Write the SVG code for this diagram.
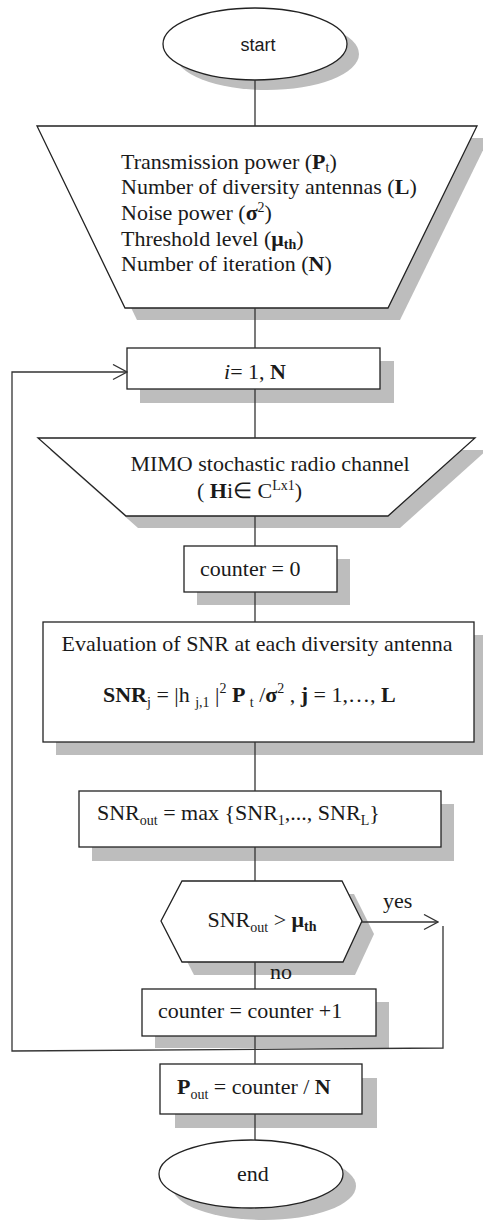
<svg xmlns="http://www.w3.org/2000/svg" width="483" height="1223" viewBox="0 0 483 1223">
<style>
.s{fill:#fff;stroke:#222;stroke-width:1.3}
.sh{fill:#bdbdbd}
.t{font-family:"Liberation Serif","Times New Roman",serif;font-size:22px;fill:#1a1a1a}
.b{font-weight:bold}
.sub{font-size:14px}
.c{stroke:#333;stroke-width:1.3;fill:none}
</style>
<defs>
<marker id="arr" markerUnits="userSpaceOnUse" markerWidth="16" markerHeight="18" refX="15" refY="8" orient="auto">
<path d="M1,0.5 L15,8 L1,15.5" fill="none" stroke="#333" stroke-width="1.3"/>
</marker>
</defs>
<rect width="483" height="1223" fill="#fff"/>

<g id="start">
<ellipse class="sh" cx="267" cy="54" rx="92" ry="36"/>
<ellipse class="s" cx="255" cy="44" rx="92" ry="36"/>
<text x="258" y="51" text-anchor="middle" font-family="Liberation Sans, Arial, sans-serif" font-size="18" fill="#1a1a1a">start</text>
</g>

<g id="inputs">
<polygon class="sh" points="49,138 489,138 400,320 137,320"/>
<polygon class="s" points="37,126 477,126 388,308 125,308"/>
<text class="t" x="121" y="169" font-size="21">Transmission power (<tspan class="b">P</tspan><tspan class="sub" dy="3">t</tspan><tspan dy="-3">)</tspan></text>
<text class="t" x="121" y="194" font-size="21">Number of diversity antennas (<tspan class="b">L</tspan>)</text>
<text class="t" x="121" y="220" font-size="21">Noise power (<tspan class="b">σ</tspan><tspan class="sub" dy="-8">2</tspan><tspan dy="8">)</tspan></text>
<text class="t" x="121" y="246" font-size="21">Threshold level (<tspan class="b">μ</tspan><tspan class="sub b" dy="3">th</tspan><tspan dy="-3">)</tspan></text>
<text class="t" x="121" y="271" font-size="21">Number of iteration (<tspan class="b">N</tspan>)</text>
</g>

<g id="loop">
<rect class="sh" x="140" y="361" width="254" height="42"/>
<rect class="s" x="127" y="348" width="253" height="41"/>
<text class="t" x="255" y="379" text-anchor="middle"><tspan font-style="italic">i</tspan>= 1, <tspan class="b">N</tspan></text>
</g>

<g id="channel">
<polygon class="sh" points="50,450 487,450 400,528 138,528"/>
<polygon class="s" points="38,438 475,438 388,516 126,516"/>
<text class="t" x="270" y="471" text-anchor="middle">MIMO stochastic radio channel</text>
<text class="t" x="197" y="498">( <tspan class="b">H</tspan>i∈ C<tspan class="sub" dy="-8">Lx1</tspan><tspan dy="8">)</tspan></text>
</g>

<g id="counter0">
<rect class="sh" x="197" y="559" width="153" height="46"/>
<rect class="s" x="184" y="546" width="153" height="46"/>
<text class="t" x="200" y="576">counter = 0</text>
</g>

<g id="eval">
<rect class="sh" x="56" y="635" width="431" height="120"/>
<rect class="s" x="43" y="622" width="431" height="120"/>
<text class="t" x="257" y="651" text-anchor="middle">Evaluation of SNR at each diversity antenna</text>
<text class="t" x="103" y="702"><tspan class="b">SNR</tspan><tspan class="sub" dy="5">j</tspan><tspan dy="-5"> = |h </tspan><tspan class="sub" dy="5">j,1</tspan><tspan dy="-5"> |</tspan><tspan class="sub" dy="-9">2</tspan><tspan class="b" dy="9"> P </tspan><tspan class="sub" dy="5">t</tspan><tspan dy="-5"> /</tspan><tspan class="b">σ</tspan><tspan class="sub" dy="-9">2</tspan><tspan dy="9"> , </tspan><tspan class="b">j</tspan> = 1,…, <tspan class="b">L</tspan></text>
</g>

<g id="max">
<rect class="sh" x="92" y="804" width="362" height="57"/>
<rect class="s" x="79" y="791" width="362" height="56"/>
<text class="t" x="97" y="820">SNR<tspan class="sub" dy="5">out</tspan><tspan dy="-5"> = max {SNR</tspan><tspan class="sub" dy="5">1</tspan><tspan dy="-5">,..., SNR</tspan><tspan class="sub" dy="5">L</tspan><tspan dy="-5">}</tspan></text>
</g>

<g id="decision">
<polygon class="sh" points="194,894 354,894 374,934 355,975 194,975 173,934"/>
<polygon class="s" points="182,881 342,881 362,921 343,962 182,962 161,921"/>
<text class="t" x="262" y="927" text-anchor="middle">SNR<tspan class="sub" dy="5">out</tspan><tspan dy="-5"> &gt; </tspan><tspan class="b">μ</tspan><tspan class="sub b" dy="4">th</tspan></text>
</g>

<g id="increment">
<rect class="sh" x="155" y="1002" width="234" height="46"/>
<rect class="s" x="142" y="989" width="234" height="47"/>
<text class="t" x="158" y="1018">counter = counter +1</text>
</g>

<g id="result">
<rect class="sh" x="175" y="1078" width="202" height="50"/>
<rect class="s" x="160" y="1064" width="202" height="50"/>
<text class="t" x="177" y="1094"><tspan class="b">P</tspan><tspan class="sub" dy="5">out</tspan><tspan dy="-5"> = counter / </tspan><tspan class="b">N</tspan></text>
</g>

<g id="end">
<ellipse class="sh" cx="264" cy="1186" rx="92" ry="34"/>
<ellipse class="s" cx="251" cy="1174" rx="92" ry="34"/>
<text class="t" x="253" y="1181" text-anchor="middle">end</text>
</g>

<g id="connectors">
<line class="c" x1="255" y1="80" x2="255" y2="126"/>
<line class="c" x1="255" y1="308" x2="255" y2="348"/>
<line class="c" x1="255" y1="389" x2="255" y2="438"/>
<line class="c" x1="255" y1="516" x2="255" y2="546"/>
<line class="c" x1="255" y1="592" x2="255" y2="622"/>
<line class="c" x1="255" y1="742" x2="255" y2="791"/>
<line class="c" x1="255" y1="847" x2="255" y2="881"/>
<line class="c" x1="255" y1="962" x2="255" y2="989"/>
<line class="c" x1="255" y1="1036" x2="255" y2="1064"/>
<line class="c" x1="255" y1="1114" x2="255" y2="1140"/>
<line class="c" x1="362" y1="922" x2="438" y2="922" marker-end="url(#arr)"/>
<polyline class="c" points="443,926 443,1048 12,1051 12,372 127,372" marker-end="url(#arr)"/>
<text class="t" x="383" y="908">yes</text>
<text class="t" x="270" y="979">no</text>
</g>
</svg>
